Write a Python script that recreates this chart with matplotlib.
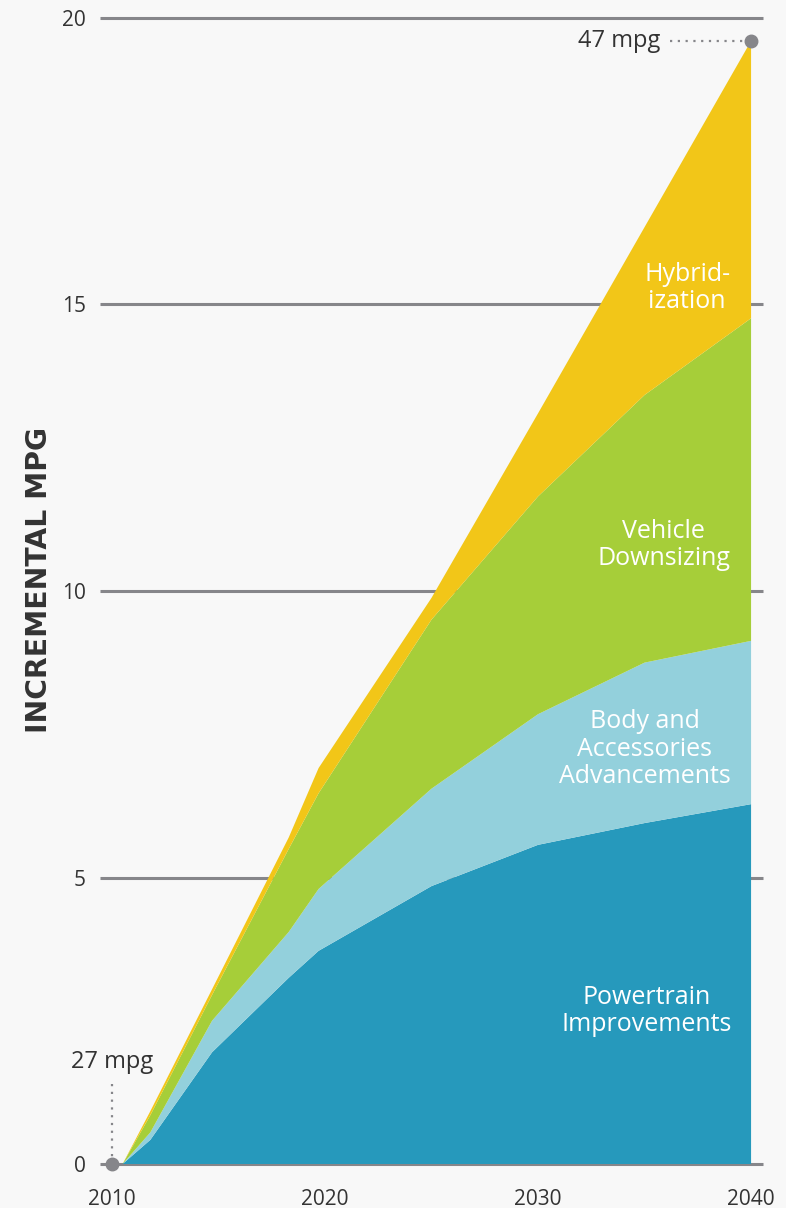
import numpy as np
import matplotlib.pyplot as plt

# years (break points of the areas)
years = [2010.5, 2011.8, 2014.7, 2018.3, 2019.7, 2025, 2030, 2035, 2040]

# cumulative tops of each band (incremental mpg)
powertrain_top = [0, 0.42, 1.95, 3.25, 3.72, 4.85, 5.57, 5.95, 6.28]
body_top = [0, 0.55, 2.5, 4.05, 4.8, 6.55, 7.85, 8.75, 9.13]
downsizing_top = [0, 0.85, 2.95, 5.5, 6.47, 9.5, 11.65, 13.42, 14.76]
hybrid_top = [0, 0.92, 3.05, 5.7, 6.91, 9.88, 13.1, 16.35, 19.6]

band_names = ["Powertrain\nImprovements", "Body and\nAccessories\nAdvancements",
              "Vehicle\nDownsizing", "Hybrid-\nization"]
band_colors = ["#2699bc", "#93d0dc", "#a6ce39", "#f2c618"]

xticks = [2010, 2020, 2030, 2040]
yticks = [0, 5, 10, 15, 20]
start_mpg = "27 mpg"
end_mpg = "47 mpg"

bg = "#f8f8f8"
grey = "#86868a"
txt = "#333333"

plt.rcParams['font.family'] = ['Open Sans', 'DejaVu Sans']

fig = plt.figure(figsize=(7.86, 12.08), dpi=100, facecolor=bg)
ax = fig.add_axes([100/786, 1-1164/1208, 663/786, 1146/1208])
ax.set_facecolor(bg)
ax.set_xlim(2009.44, 2040.56)
ax.set_ylim(0, 20)

# grid lines behind areas
ax.hlines(yticks, 2009.44, 2040.56, color=grey, lw=2.2, zorder=0, clip_on=False)

tops = np.array([powertrain_top, body_top, downsizing_top, hybrid_top])
layers = np.diff(np.vstack([np.zeros(len(years)), tops]), axis=0)
ax.stackplot(years, layers, colors=band_colors, lw=0, zorder=2)

# band labels
lab = dict(ha='center', va='center', color='white', fontsize=18, linespacing=1.12, zorder=5)
ax.text(2037.0, 15.29, band_names[3], **lab)
ax.text(2035.9, 10.8, band_names[2], **lab)
ax.text(2035.0, 7.24, band_names[1], **lab)
ax.text(2035.1, 2.67, band_names[0], **lab)

# start / end markers
ax.plot([2010, 2010], [0, 1.45], ls=(0, (1, 2.5)), color=grey, lw=1.6, clip_on=False, zorder=3)
ax.plot([2010], [0], 'o', color=grey, ms=9, clip_on=False, zorder=6)
ax.text(2010, 1.78, start_mpg, ha='center', va='center', color=txt, fontsize=17)
ax.plot([2036.2, 2040], [hybrid_top[-1]] * 2, ls=(0, (1, 2.5)), color=grey, lw=1.6, clip_on=False, zorder=3)
ax.plot([2040], [hybrid_top[-1]], 'o', color=grey, ms=9, clip_on=False, zorder=6)
ax.text(2035.75, hybrid_top[-1], end_mpg, ha='right', va='center', color=txt, fontsize=17)

ax.set_xticks(xticks)
ax.set_xticklabels([str(x) for x in xticks])
ax.set_yticks(yticks)
ax.tick_params(length=0, labelsize=15, colors=txt, pad=10)
ax.tick_params(axis='x', pad=18)
for s in ax.spines.values():
    s.set_visible(False)

fig.text(39/786, 1-580/1208, "INCREMENTAL MPG", rotation=90, ha='center', va='center',
         fontsize=20.3, fontweight='bold', color=txt, family=['DejaVu Sans'])

fig.savefig("out.png", dpi=100, facecolor=bg)
